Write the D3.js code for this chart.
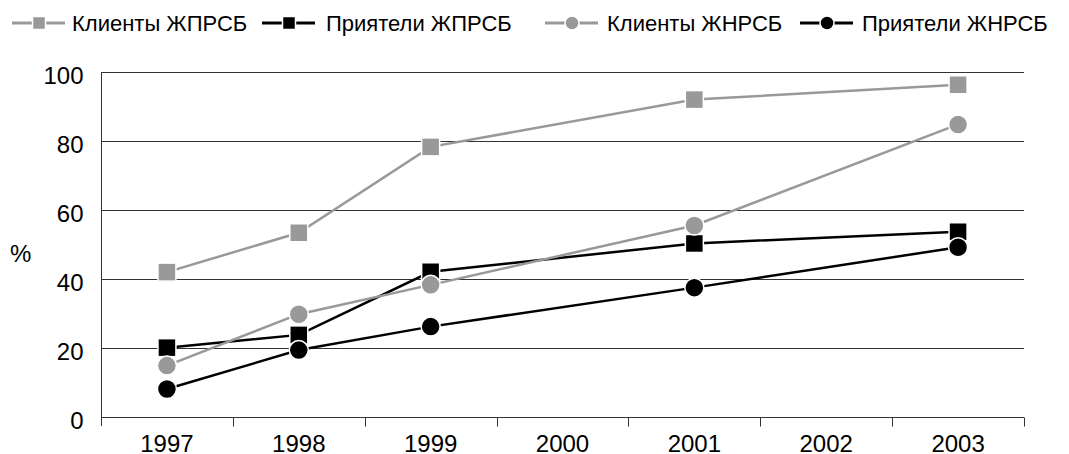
<!DOCTYPE html>
<html><head><meta charset="utf-8">
<script src="https://cdn.jsdelivr.net/npm/d3@7"></script>
<style>body{margin:0;background:#fff}svg{display:block;font-family:"Liberation Sans",Arial,sans-serif}</style>
</head><body><svg id="c" width="1069" height="454"></svg>
<script>
const years = ["1997","1998","1999","2000","2001","2002","2003"];
const yTicks = [0,20,40,60,80,100];
const seriesNames = ["Клиенты ЖПРСБ","Приятели ЖПРСБ","Клиенты ЖНРСБ","Приятели ЖНРСБ"];
const klientiZhPRSB = [{x:"1997",v:42.0},{x:"1998",v:53.4},{x:"1999",v:78.3},{x:"2001",v:92.0},{x:"2003",v:96.3}];
const priateliZhPRSB = [{x:"1997",v:20.1},{x:"1998",v:23.8},{x:"1999",v:42.1},{x:"2001",v:50.3},{x:"2003",v:53.7}];
const klientiZhNRSB = [{x:"1997",v:14.9},{x:"1998",v:29.8},{x:"1999",v:38.3},{x:"2001",v:55.5},{x:"2003",v:84.8}];
const priateliZhNRSB = [{x:"1997",v:8.1},{x:"1998",v:19.4},{x:"1999",v:26.2},{x:"2001",v:37.5},{x:"2003",v:49.2}];

const series = [
  {name:seriesNames[0], data:klientiZhPRSB, color:"#999999", shape:"square"},
  {name:seriesNames[1], data:priateliZhPRSB, color:"#000000", shape:"square"},
  {name:seriesNames[2], data:klientiZhNRSB, color:"#999999", shape:"circle"},
  {name:seriesNames[3], data:priateliZhNRSB, color:"#000000", shape:"circle"}
];

const FONT = "Liberation Sans, Arial, sans-serif";
const svg = d3.select("#c");
const x = d3.scaleBand().domain(years).range([101,1024]).padding(0);
const y = d3.scaleLinear().domain([0,100]).range([417,72]);

// gridlines
svg.append("g").selectAll("line").data(yTicks.filter(d=>d>0)).join("line")
  .attr("x1",101).attr("x2",1024)
  .attr("y1",d=>Math.round(y(d))+0.5).attr("y2",d=>Math.round(y(d))+0.5)
  .attr("stroke","#333").attr("stroke-width",1);

// y axis
const ya = svg.append("g").attr("transform","translate(101.5,0)")
  .call(d3.axisLeft(y).tickValues(yTicks).tickSize(0).tickPadding(18));
ya.attr("font-size",null).attr("font-family",null);
ya.select(".domain").remove();
ya.append("line").attr("x1",0).attr("x2",0).attr("y1",72).attr("y2",426).attr("stroke","#333");
ya.selectAll("text").style("font-size","24px").attr("fill","#000").style("font-family",FONT).attr("dy","0.47em");

// x axis
const xa = svg.append("g").attr("transform","translate(0,417.5)")
  .call(d3.axisBottom(x).tickSize(0).tickPadding(17));
xa.attr("font-size",null).attr("font-family",null);
xa.select(".domain").remove();
xa.append("line").attr("x1",101).attr("x2",1024).attr("stroke","#333");
xa.selectAll(".tk").data(years).join("line")
  .attr("x1",(d,i)=>Math.round(x(d) + x.bandwidth())+0.5)
  .attr("x2",(d,i)=>Math.round(x(d) + x.bandwidth())+0.5)
  .attr("y1",0).attr("y2",9).attr("stroke","#333");
xa.selectAll("text").style("font-size","24px").attr("fill","#000").style("font-family",FONT).attr("dy","0.71em");

svg.append("text").attr("x",10).attr("y",262).style("font-size","24px").style("font-family",FONT).text("%");

const cx = d => x(d.x) + x.bandwidth()/2;
const line = d3.line().x(cx).y(d=>y(d.v));

series.forEach(s=>{
  svg.append("path").datum(s.data).attr("d",line).attr("fill","none")
    .attr("stroke",s.color).attr("stroke-width",2.5);
});
series.forEach(s=>{
  const g = svg.append("g");
  if (s.shape==="square") {
    g.selectAll("rect").data(s.data).join("rect")
      .attr("x",d=>cx(d)-9).attr("y",d=>y(d.v)-9).attr("width",18).attr("height",18)
      .attr("fill",s.color).attr("stroke","#fff").attr("stroke-width",1.5);
  } else {
    g.selectAll("circle").data(s.data).join("circle")
      .attr("cx",cx).attr("cy",d=>y(d.v)).attr("r",9.5)
      .attr("fill",s.color).attr("stroke","#fff").attr("stroke-width",1.5);
  }
});

// legend
const legX = [12, 262, 545, 800];
const legT = [72, 326, 607, 862];
const leg = svg.append("g");
series.forEach((s,i)=>{
  const g = leg.append("g").attr("transform",`translate(${legX[i]},23)`);
  g.append("line").attr("x1",0).attr("x2",53).attr("y1",0).attr("y2",0).attr("stroke",s.color).attr("stroke-width",3);
  if (s.shape==="square") g.append("rect").attr("x",20.5).attr("y",-6.5).attr("width",13).attr("height",13).attr("fill",s.color).attr("stroke","#fff").attr("stroke-width",1.5);
  else g.append("circle").attr("cx",27).attr("cy",0).attr("r",7).attr("fill",s.color).attr("stroke","#fff").attr("stroke-width",1.5);
  g.append("text").attr("x",legT[i]-legX[i]).attr("y",0).attr("dy","0.36em").style("font-size","22px").style("font-family",FONT).text(s.name);
});
</script></body></html>
